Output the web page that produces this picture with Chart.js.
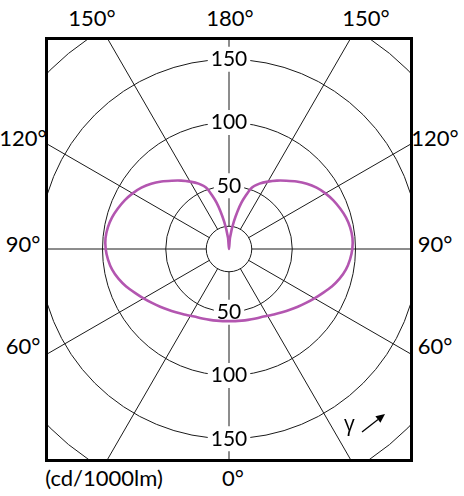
<!DOCTYPE html>
<html>
<head>
<meta charset="utf-8">
<title>Luminous intensity</title>
<script src="https://cdn.jsdelivr.net/npm/chart.js@4.4.1/dist/chart.umd.min.js"></script>
<style>
    html, body { margin: 0; padding: 0; background: #fff; }
    #page { position: relative; width: 464px; height: 496px; overflow: hidden; font-family: Lato, "Open Sans", sans-serif; color: #000; }
    #box { position: absolute; left: 45px; top: 37px; width: 362px; height: 419px; border: 3px solid #000; overflow: hidden; }
    #box canvas { position: absolute; left: -84px; top: -56px; }
    .lbl { position: absolute; font-size: 22px; line-height: 22px; white-space: nowrap; transform: translateX(-50%); }
    #gamma { position: absolute; left: 344px; top: 413px; font-size: 21px; line-height: 21px; font-family: "Open Sans", sans-serif; }
    #arrow { position: absolute; left: 358px; top: 410px; }
</style>
</head>
<body>
<div id="page">
    <div id="box">
        <canvas id="polarChart" width="531" height="531"></canvas>
    </div>

    <!-- angle labels round the frame -->
    <div class="lbl" style="left:92px; top:7px">150°</div>
    <div class="lbl" style="left:230px; top:7px">180°</div>
    <div class="lbl" style="left:366px; top:7px">150°</div>
    <div class="lbl" style="left:23px; top:127px">120°</div>
    <div class="lbl" style="left:23px; top:233px">90°</div>
    <div class="lbl" style="left:23px; top:335px">60°</div>
    <div class="lbl" style="left:435px; top:127px">120°</div>
    <div class="lbl" style="left:435px; top:233px">90°</div>
    <div class="lbl" style="left:435px; top:335px">60°</div>
    <div class="lbl" style="left:104px; top:467px">(cd/1000lm)</div>
    <div class="lbl" style="left:233px; top:467px">0°</div>

    <div id="gamma">γ</div>
    <svg id="arrow" width="32" height="26">
        <line x1="4" y1="22" x2="20" y2="9.5" stroke="#000" stroke-width="1.3"/>
        <polygon points="27,4 22.4,12.7 17.4,6.3" fill="#000"/>
    </svg>
</div>

<script>
// Gamma angles (degrees from nadir) and intensity, cd/1000lm
var gammaAngles = [0, 5, 10, 15, 20, 25, 30, 35, 40, 45, 50, 55, 60, 65, 70, 75, 80, 85, 90,
                   95, 100, 105, 110, 115, 120, 125, 130, 135, 140, 145, 150, 155, 160, 165, 170, 175, 180];
var intensity = [57, 57.2, 57.5, 58, 58.7, 59.5, 61, 63, 65.3, 68, 71, 74.3, 78, 82, 86.5, 90.5, 93.8, 96, 97.5,
                 98, 97.3, 95.8, 93.5, 91, 88, 84.5, 80.3, 75.5, 70.5, 66, 61.5, 57, 51, 38, 22, 9, 0];

// Radial scale
var radialTicks = [0, 50, 100, 150, 200];
var hubValue = 18;        // small circle round the centre
var spokeEvery = 30;      // degrees between drawn spokes

var labelFont = { family: 'Lato', size: 21 };
var curveColor = '#b356b0';

// Chart.js radar puts label 0 at the top and runs clockwise,
// so the top is gamma 180 and the bottom gamma 0 (both halves are the same curve)
var step = gammaAngles[1] - gammaAngles[0];
var polarLabels = [];
var polarData = [];
for (let i = 0; i < 360 / step; i++) {
    let g = Math.abs(180 - i * step);
    polarLabels.push(g + '°');
    polarData.push(intensity[gammaAngles.indexOf(g)]);
}

// Centre hub and the tick labels below the centre
const hubPlugin = {
    id: 'hub',
    beforeDatasetsDraw(chart) {
        const r = chart.scales.r;
        const ctx = chart.ctx;
        ctx.save();
        ctx.beginPath();
        ctx.arc(r.xCenter, r.yCenter, r.getDistanceFromCenterForValue(hubValue), 0, Math.PI * 2);
        ctx.fillStyle = '#fff';
        ctx.fill();
        ctx.strokeStyle = '#1a1a1a';
        ctx.lineWidth = 1;
        ctx.stroke();

        ctx.font = labelFont.size + 'px ' + labelFont.family;
        ctx.textAlign = 'center';
        ctx.textBaseline = 'middle';
        radialTicks.forEach(function (v) {
            if (v === 0) return;
            let d = r.getDistanceFromCenterForValue(v);
            let txt = String(v);
            let w = ctx.measureText(txt).width;
            ctx.fillStyle = '#fff';
            ctx.fillRect(r.xCenter - w / 2 - 3, r.yCenter + d - labelFont.size / 2 - 2, w + 6, labelFont.size + 4);
            ctx.fillStyle = '#000';
            ctx.fillText(txt, r.xCenter, r.yCenter + d);
        });
        ctx.restore();
    }
};

var ctx = document.getElementById('polarChart').getContext('2d');
var polarChart = new Chart(ctx, {
    type: 'radar',
    data: {
        labels: polarLabels,
        datasets: [{
            data: polarData,
            borderColor: curveColor,
            borderWidth: 2.6,
            fill: false,
            pointRadius: 0,
            tension: 0.2
        }]
    },
    options: {
        responsive: false,
        animation: false,
        events: [],
        plugins: {
            legend: { display: false },
            tooltip: { enabled: false }
        },
        scales: {
            r: {
                min: radialTicks[0],
                max: radialTicks[radialTicks.length - 1],
                startAngle: 0,
                afterBuildTicks: function (scale) {
                    scale.ticks = radialTicks.map(v => ({ value: v }));
                },
                ticks: {
                    display: true,
                    color: '#000',
                    font: labelFont,
                    showLabelBackdrop: true,
                    backdropColor: '#fff',
                    backdropPadding: { x: 3, y: 2 }
                },
                grid: { circular: true, color: '#1a1a1a', lineWidth: 1 },
                angleLines: {
                    display: true,
                    color: '#1a1a1a',
                    lineWidth: c => (c.index * step) % spokeEvery === 0 ? 1 : 0
                },
                pointLabels: { display: false }
            }
        }
    },
    plugins: [hubPlugin]
});
</script>
</body>
</html>
